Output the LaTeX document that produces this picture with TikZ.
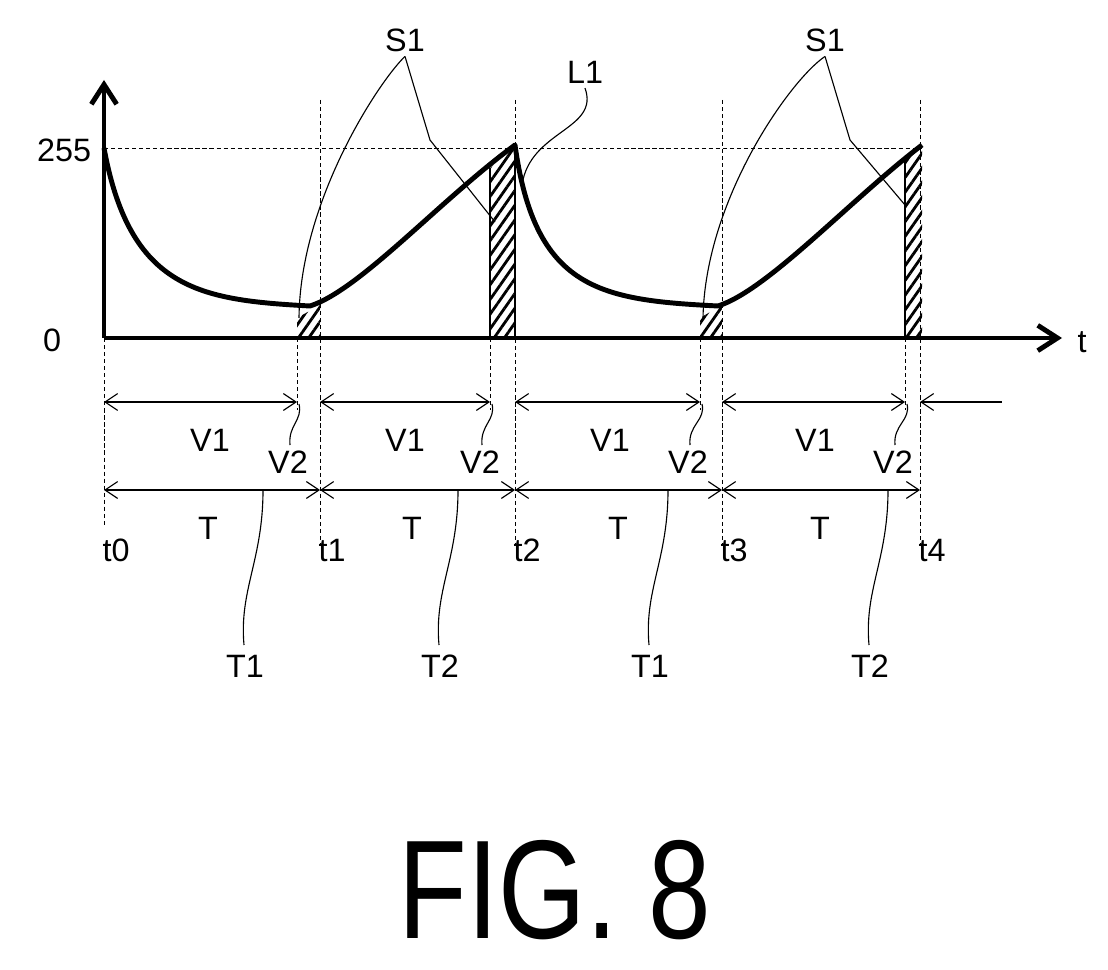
\documentclass[tikz,border=0pt]{standalone}
\usepackage{fontspec}
\setmainfont{Liberation Sans}
\usetikzlibrary{patterns.meta,arrows.meta}
\begin{document}
\begin{tikzpicture}[x=0.025cm,y=-0.025cm,font=\fontsize{23}{25}\selectfont]
    \tikzstyle{guide}=[densely dashed,line width=0.6pt]
    \tikzstyle{span}=[{Straight Barb[length=9pt,width=12pt]}-{Straight Barb[length=9pt,width=12pt]},line width=0.8pt]
    \tikzstyle{lead}=[line width=0.8pt]
    \tikzstyle{hatch}=[pattern={Lines[angle=55,distance=6pt,line width=2pt]}]
    \tikzstyle{curve}=[line width=3.5pt,line join=round]
    \useasboundingbox (0,0) rectangle (1108,970);

    % hatched areas
    \fill[hatch] (297,338) -- (297,318) -- (320,305) -- (320,338) -- cycle;
    \fill[hatch] (700,338) -- (700,318) -- (722,305) -- (722,338) -- cycle;
    \path[hatch] (490,338) -- (490,168) -- (515,145) -- (515,338) -- cycle;
    \draw[lead] (490,338) -- (490,168) (515,145) -- (515,338);
    \path[hatch] (905,338) -- (905,160) -- (922,145) -- (922,338) -- cycle;
    \draw[lead] (905,338) -- (905,160);

    % guide lines
    \draw[guide] (104,148) -- (922,148);
    \foreach \x in {320,515,722,920}
    \draw[guide] (\x,100) -- (\x,545);
    \foreach \x in {104}
    \draw[guide] (\x,338) -- (\x,525);
    \foreach \x in {297,490,700,905}
    \draw[guide] (\x,338) -- (\x,410);

    % axes
    \draw[line width=3.5pt,-{Straight Barb[length=14pt,width=18pt]}] (104,338) -- (104,80);
    \draw[line width=3.5pt,-{Straight Barb[length=14pt,width=18pt]}] (104,338) -- (1062,338);
    \node (t) at (1082,342) {t};
    \node[anchor=east] (max) at (96,150) {255};
    \node (zero) at (52,340) {0};

    % luminance curve
    \draw[curve] (104,148) .. controls (130,290) and (200,300) .. (310,306)
      .. controls (360,290) and (440,200) .. (515,145)
      .. controls (535,290) and (600,300) .. (718,306)
      .. controls (768,290) and (850,200) .. (922,145);

    % V row
    \foreach \a/\b in {104/297,320/490,515/700,722/905}
    \draw[span] (\a,402) -- (\b,402);
    \draw[lead,{Straight Barb[length=9pt,width=12pt]}-] (920,402) -- (1002,402);
    \foreach \x in {210,405,610,815}
    \node (V1-\x) at (\x,440) {V1};
    \foreach \x/\y in {288/297,480/490,688/700,893/905} {
    \node (V2-\x) at (\x,462) {V2};
    \draw[lead] (\x+2,445) .. controls (\x,425) and (\y+6,420) .. (\y+2,404);
    }

    % T row
    \foreach \a/\b in {104/320,320/515,515/722,722/920}
    \draw[span] (\a,490) -- (\b,490);
    \foreach \x in {208,412,618,820}
    \node (T-\x) at (\x,528) {T};
    \foreach \x/\n in {104/0,320/1,515/2,722/3,920/4}
    \node (t\n) at (\x+12,550) {t\n};

    % period labels
    \foreach \x/\n in {245/1,440/2,650/1,870/2} {
    \node (P-\x) at (\x,666) {T\n};
    \draw[lead] (\x-1,645) .. controls (\x-6,590) and (\x+18,560) .. (\x+18,490);
    }

    % S1 and L1 leaders
    \node (S1a) at (405,40) {S1};
    \node (S1b) at (825,40) {S1};
    \draw[lead] (S1a.south) .. controls (380,80) and (300,200) .. (299,318);
    \draw[lead] (S1a.south) -- (430,140) -- (495,222);
    \draw[lead] (S1b.south) .. controls (790,80) and (705,200) .. (703,318);
    \draw[lead] (S1b.south) -- (850,140) -- (905,205);
    \node (L1) at (585,72) {L1};
    \draw[lead] (L1.south) .. controls (600,130) and (530,130) .. (522,185);

    % caption
    \node[xscale=0.8] (fig) at (555,890) {\fontsize{100}{100}\selectfont FIG. 8};
\end{tikzpicture}
\end{document}
